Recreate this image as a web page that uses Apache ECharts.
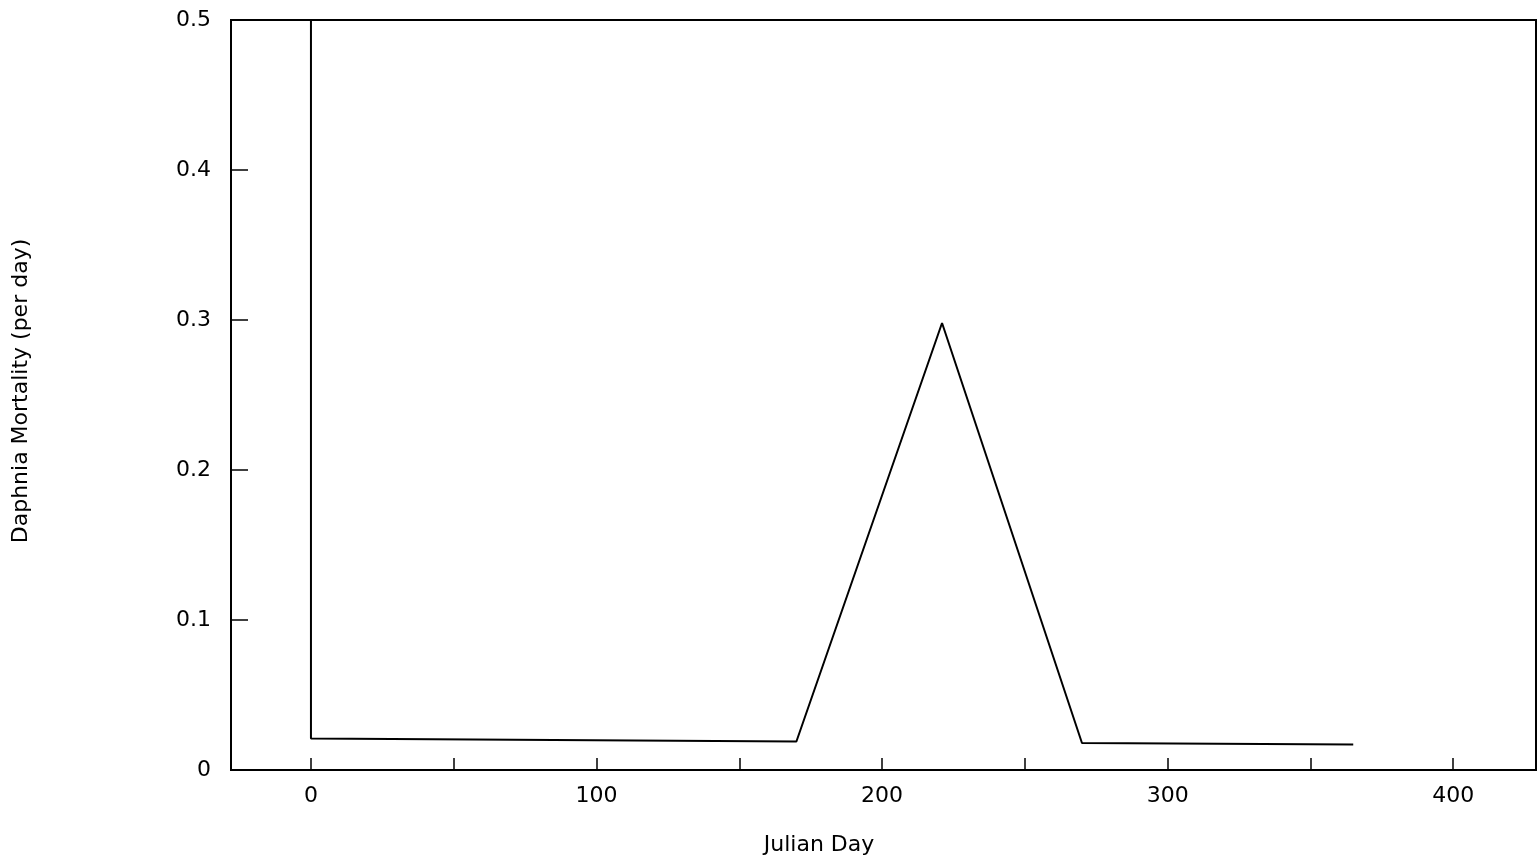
<!DOCTYPE html>
<html>
<head>
<meta charset="utf-8">
<script src="https://cdn.jsdelivr.net/npm/echarts@6/dist/echarts.min.js"></script>
<style>
html,body{margin:0;padding:0;background:#fff;}
#chart{width:1539px;height:863px;}
</style>
</head>
<body>
<div id="chart"></div>
<script>
// Data
var julianDay = [0, 0, 170, 221, 270, 365];
var mortality = [0.5, 0.021, 0.019, 0.298, 0.018, 0.017];
var xLabelValues = [0, 100, 200, 300, 400];
var xTickValues = [0, 50, 100, 150, 200, 250, 300, 350, 400];
var yLabelValues = [0, 0.1, 0.2, 0.3, 0.4, 0.5];
var xTitle = 'Julian Day';
var yTitle = 'Daphnia Mortality (per day)';

var FONT = 'DejaVu Sans';
var chart = echarts.init(document.getElementById('chart'), null, {renderer: 'canvas'});
var pts = julianDay.map(function (d, i) { return [d, mortality[i]]; });

chart.setOption({
  animation: false,
  backgroundColor: '#fff',
  grid: {
    left: 231, right: 3, top: 20, bottom: 93,
    show: true, borderColor: '#000', borderWidth: 2, backgroundColor: '#fff'
  },
  xAxis: {
    type: 'value',
    min: -28, max: 429,
    splitLine: {show: false},
    axisLine: {show: true, onZero: false, lineStyle: {color: '#000', width: 2}},
    axisTick: {show: true, inside: true, length: 12, customValues: xTickValues,
      lineStyle: {color: '#000', width: 1.5}},
    axisLabel: {show: true, customValues: xLabelValues, margin: 15,
      color: '#000', fontFamily: FONT, fontSize: 22}
  },
  yAxis: {
    type: 'value',
    min: 0, max: 0.5, interval: 0.1,
    splitLine: {show: false},
    axisLine: {show: true, onZero: false, lineStyle: {color: '#000', width: 2}},
    axisTick: {show: true, inside: true, length: 17, lineStyle: {color: '#000', width: 1.5}},
    axisLabel: {show: true, margin: 20, color: '#000', fontFamily: FONT, fontSize: 22,
      customValues: yLabelValues,
      formatter: function (v) { return v === 0 ? '0' : v.toFixed(1); }}
  },
  graphic: [
    {type: 'text', x: 819, y: 845,
      style: {text: xTitle, fill: '#000', font: '22px "DejaVu Sans"',
        align: 'center', verticalAlign: 'middle'}},
    {type: 'text', x: 21, y: 391, rotation: Math.PI / 2,
      style: {text: yTitle, fill: '#000', font: '22px "DejaVu Sans"',
        align: 'center', verticalAlign: 'middle'}}
  ],
  series: [{
    type: 'line',
    data: pts,
    showSymbol: false,
    symbol: 'none',
    lineStyle: {color: '#000', width: 2},
    silent: true
  }]
});
</script>
</body>
</html>
